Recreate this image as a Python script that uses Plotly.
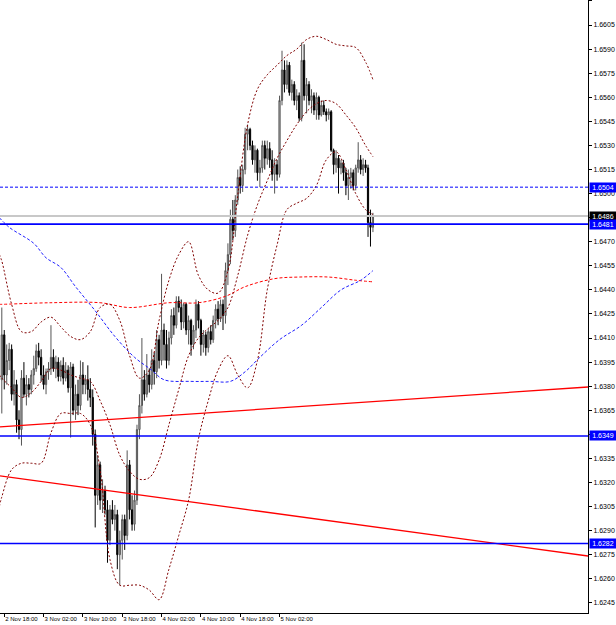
import pandas as pd
import plotly.graph_objects as go

# ---------------- data ----------------
bar_start = "2009-11-02 17:30"   # first visible M30 bar
bar_minutes = 30

opens = [1.6384,1.6412,1.6387,1.6396,1.6403,1.6375,1.6381,1.6359,1.6353,1.6385,
1.6375,1.6381,1.6378,1.6387,1.6391,1.6402,1.6398,1.6387,1.6381,1.6389,
1.6391,1.6398,1.6391,1.6395,1.6386,1.6393,1.6385,1.6390,1.6379,1.6392,
1.6365,1.6375,1.6368,1.6387,1.6381,1.6384,1.6378,1.6373,1.6350,1.6312,
1.6331,1.6309,1.6315,1.6303,1.6284,1.6303,1.6297,1.6300,1.6275,1.6284,
1.6297,1.6287,1.6331,1.6303,1.6294,1.6309,1.6353,1.6368,1.6384,1.6375,
1.6387,1.6381,1.6396,1.6389,1.6409,1.6396,1.6415,1.6406,1.6396,1.6410,
1.6424,1.6418,1.6433,1.6429,1.6420,1.6431,1.6415,1.6421,1.6406,1.6415,
1.6431,1.6421,1.6406,1.6412,1.6404,1.6414,1.6409,1.6421,1.6428,1.6422,
1.6431,1.6424,1.6452,1.6462,1.6484,1.6477,1.6496,1.6510,1.6505,1.6515,
1.6537,1.6540,1.6530,1.6521,1.6527,1.6513,1.6516,1.6530,1.6522,1.6528,
1.6521,1.6512,1.6518,1.6512,1.6558,1.6577,1.6568,1.6580,1.6563,1.6568,
1.6558,1.6561,1.6547,1.6583,1.6561,1.6568,1.6558,1.6561,1.6552,1.6560,
1.6549,1.6555,1.6551,1.6549,1.6551,1.6527,1.6518,1.6522,1.6516,1.6519,
1.6513,1.6505,1.6510,1.6513,1.6505,1.6516,1.6521,1.6515,1.6518,1.6516,
1.6482,1.6479]

highs = [1.6429,1.6415,1.6406,1.6407,1.6406,1.6390,1.6384,1.6365,1.6390,1.6395,
1.6387,1.6385,1.6390,1.6399,1.6406,1.6407,1.6403,1.6393,1.6391,1.6395,
1.6418,1.6403,1.6399,1.6398,1.6396,1.6398,1.6395,1.6393,1.6395,1.6394,
1.6381,1.6384,1.6396,1.6395,1.6387,1.6393,1.6385,1.6378,1.6353,1.6337,
1.6333,1.6322,1.6318,1.6309,1.6306,1.6309,1.6306,1.6303,1.6290,1.6300,
1.6300,1.6340,1.6334,1.6312,1.6315,1.6356,1.6375,1.6410,1.6390,1.6400,
1.6391,1.6403,1.6401,1.6415,1.6412,1.6450,1.6419,1.6415,1.6414,1.6428,
1.6429,1.6436,1.6436,1.6434,1.6432,1.6432,1.6424,1.6422,1.6418,1.6434,
1.6433,1.6422,1.6415,1.6414,1.6416,1.6418,1.6424,1.6431,1.6433,1.6434,
1.6434,1.6457,1.6469,1.6490,1.6496,1.6499,1.6515,1.6517,1.6518,1.6541,
1.6543,1.6541,1.6533,1.6530,1.6528,1.6521,1.6533,1.6533,1.6533,1.6532,
1.6527,1.6522,1.6521,1.6561,1.6589,1.6583,1.6583,1.6582,1.6571,1.6570,
1.6565,1.6563,1.6594,1.6593,1.6572,1.6570,1.6565,1.6563,1.6563,1.6561,
1.6558,1.6558,1.6553,1.6553,1.6552,1.6528,1.6527,1.6524,1.6521,1.6521,
1.6516,1.6515,1.6516,1.6515,1.6518,1.6532,1.6524,1.6522,1.6521,1.6518,
1.6490,1.6488]

lows = [1.6363,1.6378,1.6381,1.6390,1.6371,1.6368,1.6351,1.6347,1.6343,1.6373,
1.6368,1.6373,1.6375,1.6381,1.6389,1.6393,1.6383,1.6378,1.6375,1.6384,
1.6387,1.6389,1.6385,1.6383,1.6383,1.6381,1.6383,1.6376,1.6348,1.6362,
1.6359,1.6362,1.6365,1.6375,1.6375,1.6371,1.6367,1.6343,1.6292,1.6306,
1.6303,1.6301,1.6300,1.6270,1.6281,1.6294,1.6290,1.6266,1.6256,1.6272,
1.6278,1.6284,1.6297,1.6290,1.6290,1.6306,1.6347,1.6363,1.6371,1.6373,
1.6376,1.6378,1.6381,1.6385,1.6391,1.6393,1.6396,1.6391,1.6393,1.6406,
1.6412,1.6416,1.6426,1.6415,1.6416,1.6412,1.6406,1.6399,1.6403,1.6410,
1.6416,1.6399,1.6401,1.6399,1.6401,1.6406,1.6407,1.6416,1.6418,1.6420,
1.6415,1.6419,1.6443,1.6456,1.6471,1.6473,1.6493,1.6500,1.6501,1.6512,
1.6527,1.6527,1.6518,1.6513,1.6508,1.6504,1.6513,1.6515,1.6518,1.6516,
1.6508,1.6500,1.6508,1.6510,1.6555,1.6563,1.6565,1.6561,1.6558,1.6555,
1.6552,1.6545,1.6545,1.6558,1.6550,1.6555,1.6550,1.6549,1.6546,1.6546,
1.6548,1.6549,1.6545,1.6546,1.6526,1.6512,1.6513,1.6500,1.6512,1.6508,
1.6499,1.6496,1.6503,1.6502,1.6502,1.6513,1.6512,1.6511,1.6513,1.6473,
1.6467,1.6476]

closes = [1.6412,1.6387,1.6396,1.6403,1.6375,1.6381,1.6359,1.6353,1.6385,1.6375,
1.6381,1.6378,1.6387,1.6391,1.6402,1.6398,1.6387,1.6381,1.6389,1.6391,
1.6398,1.6391,1.6395,1.6386,1.6393,1.6385,1.6390,1.6379,1.6392,1.6365,
1.6375,1.6368,1.6387,1.6381,1.6384,1.6378,1.6373,1.6350,1.6312,1.6331,
1.6309,1.6315,1.6303,1.6284,1.6303,1.6297,1.6300,1.6275,1.6284,1.6297,
1.6287,1.6331,1.6303,1.6294,1.6309,1.6353,1.6368,1.6384,1.6375,1.6387,
1.6381,1.6396,1.6389,1.6409,1.6396,1.6415,1.6406,1.6396,1.6410,1.6424,
1.6418,1.6433,1.6429,1.6420,1.6431,1.6415,1.6421,1.6406,1.6415,1.6431,
1.6421,1.6406,1.6412,1.6404,1.6414,1.6409,1.6421,1.6428,1.6422,1.6431,
1.6424,1.6452,1.6462,1.6484,1.6477,1.6496,1.6510,1.6505,1.6515,1.6537,
1.6540,1.6530,1.6521,1.6527,1.6513,1.6516,1.6530,1.6522,1.6528,1.6521,
1.6512,1.6518,1.6512,1.6558,1.6577,1.6568,1.6580,1.6563,1.6568,1.6558,
1.6561,1.6547,1.6583,1.6561,1.6568,1.6558,1.6561,1.6552,1.6560,1.6549,
1.6555,1.6551,1.6549,1.6551,1.6527,1.6518,1.6522,1.6516,1.6519,1.6513,
1.6505,1.6510,1.6513,1.6505,1.6516,1.6521,1.6515,1.6518,1.6516,1.6482,
1.6479,1.6486]

# Bollinger bands (read at bar indices)
bb_idx = [-1, 0, 4, 8, 12, 16, 20, 24, 28, 32, 36, 40, 44, 48, 52, 56, 60, 64, 68, 72,
          76, 80, 84, 88, 92, 96, 100, 104, 108, 112, 116, 120, 124, 128, 132, 136, 140, 144, 148, 151]
bb_upper = [1.6462, 1.6458, 1.6431, 1.6414, 1.6414, 1.6420, 1.6423, 1.6417, 1.6411, 1.6409,
            1.6414, 1.6429, 1.6431, 1.6421, 1.6399, 1.6385, 1.6390, 1.6421, 1.6446, 1.6462,
            1.6470, 1.6449, 1.6440, 1.6438, 1.6452, 1.6499, 1.6543, 1.6565, 1.6574, 1.6580,
            1.6586, 1.6590, 1.6596, 1.6598, 1.6596, 1.6593, 1.6592, 1.6591, 1.6582, 1.6571]
bb_middle = [1.6387, 1.6385, 1.6379, 1.6373, 1.6376, 1.6383, 1.6391, 1.6390, 1.6387, 1.6385,
             1.6383, 1.6371, 1.6356, 1.6337, 1.6327, 1.6322, 1.6323, 1.6334, 1.6356, 1.6378,
             1.6399, 1.6410, 1.6416, 1.6421, 1.6429, 1.6449, 1.6474, 1.6493, 1.6508, 1.6522,
             1.6533, 1.6543, 1.6551, 1.6556, 1.6558, 1.6556, 1.6549, 1.6541, 1.6530, 1.6523]
bb_lower = [1.6305, 1.6311, 1.6328, 1.6332, 1.6332, 1.6332, 1.6351, 1.6363, 1.6363, 1.6363,
            1.6356, 1.6328, 1.6272, 1.6256, 1.6256, 1.6256, 1.6253, 1.6247, 1.6266, 1.6287,
            1.6309, 1.6347, 1.6371, 1.6390, 1.6399, 1.6387, 1.6379, 1.6396, 1.6440, 1.6468,
            1.6490, 1.6494, 1.6497, 1.6505, 1.6521, 1.6526, 1.6515, 1.6500, 1.6490, 1.6487]

ma_red_idx = [-1, 0, 20, 40, 52, 68, 80, 91, 99, 111, 121, 133, 144, 151]
ma_red = [1.6431, 1.6431, 1.6432, 1.6432, 1.6429, 1.6432, 1.6432, 1.6436, 1.6442, 1.6447,
          1.6448, 1.6448, 1.6446, 1.6445]

ma_blue_idx = [-1, 3, 13, 18, 24, 30, 38, 46, 54, 61, 66, 77, 85, 93, 99, 105, 113, 122, 130, 138, 146, 151]
ma_blue = [1.6485, 1.6479, 1.6469, 1.6460, 1.6454, 1.6442, 1.6427, 1.6411, 1.6398, 1.6390,
           1.6384, 1.6383, 1.6383, 1.6383, 1.6389, 1.6398, 1.6409, 1.6418, 1.6429, 1.6440,
           1.6446, 1.6452]

# trend lines (price at left edge, price at right edge of the view)
trend_times = ["2009-11-02 17:08", "2009-11-07 16:45"]
trend_up = [1.63546, 1.63795]
trend_down = [1.63241, 1.62742]

level_blue_dash = 1.6504
level_blue_solid = [1.6481, 1.6349, 1.6282]
bid_price = 1.6486

tick_times = ["2009-11-02 18:00", "2009-11-03 02:00", "2009-11-03 10:00", "2009-11-03 18:00",
              "2009-11-04 02:00", "2009-11-04 10:00", "2009-11-04 18:00", "2009-11-05 02:00"]
tick_labels = ["2 Nov 18:00", "3 Nov 02:00", "3 Nov 10:00", "3 Nov 18:00",
               "4 Nov 02:00", "4 Nov 10:00", "4 Nov 18:00", "5 Nov 02:00"]

y_range = [1.62387, 1.66206]
x_range = trend_times

# ---------------- figure ----------------
t0 = pd.Timestamp(bar_start)
bar_times = pd.date_range(t0, periods=len(closes), freq=f"{bar_minutes}min")


def idx_to_time(idx):
    return [t0 + pd.Timedelta(minutes=bar_minutes * i) for i in idx]


fig = go.Figure()

BLUE = "#0000ff"
MAROON = "#800000"

# trend lines
fig.add_trace(go.Scatter(x=pd.to_datetime(trend_times), y=trend_up, mode="lines",
                         line=dict(color="#ff0000", width=1.3), hoverinfo="skip"))
fig.add_trace(go.Scatter(x=pd.to_datetime(trend_times), y=trend_down, mode="lines",
                         line=dict(color="#ff0000", width=1.3), hoverinfo="skip"))

# moving averages
fig.add_trace(go.Scatter(x=idx_to_time(ma_red_idx), y=ma_red, mode="lines",
                         line=dict(color="#ff0000", width=1, dash="3px,2px", shape="spline"),
                         hoverinfo="skip"))
fig.add_trace(go.Scatter(x=idx_to_time(ma_blue_idx), y=ma_blue, mode="lines",
                         line=dict(color="#2020ff", width=1, dash="3px,2px", shape="spline"),
                         hoverinfo="skip"))

# Bollinger bands
for band in (bb_upper, bb_middle, bb_lower):
    fig.add_trace(go.Scatter(x=idx_to_time(bb_idx), y=band, mode="lines",
                             line=dict(color=MAROON, width=1, dash="2px,2px", shape="spline"),
                             hoverinfo="skip"))

# candles
fig.add_trace(go.Candlestick(
    x=bar_times, open=opens, high=highs, low=lows, close=closes,
    increasing=dict(line=dict(color="#555555", width=1), fillcolor="#c8c8c8"),
    decreasing=dict(line=dict(color="#000000", width=1), fillcolor="#000000"),
    whiskerwidth=0, hoverinfo="skip"))

# horizontal levels
shapes = [dict(type="line", xref="paper", x0=0, x1=1, yref="y", y0=bid_price, y1=bid_price,
               line=dict(color="#c8c8c8", width=2)),
          dict(type="line", xref="paper", x0=0, x1=1, yref="y", y0=level_blue_dash, y1=level_blue_dash,
               line=dict(color=BLUE, width=1, dash="3px,2px"))]
for lv in level_blue_solid:
    shapes.append(dict(type="line", xref="paper", x0=0, x1=1, yref="y", y0=lv, y1=lv,
                       line=dict(color=BLUE, width=1.6)))
fig.update_layout(shapes=shapes)

# price tags on the axis
tags = [(level_blue_dash, BLUE), (bid_price, "#000000")] + [(lv, BLUE) for lv in level_blue_solid]
for price, col in tags:
    fig.add_annotation(xref="paper", x=1, xanchor="left", xshift=1, yref="y", y=price,
                       text=f"{price:.4f}", showarrow=False, bgcolor=col,
                       font=dict(family="Liberation Sans", size=7, color="#ffffff"),
                       borderpad=0, width=26, height=9, align="center")

fig.update_layout(
    width=616, height=625,
    margin=dict(l=0, r=28, t=0, b=12, autoexpand=False),
    paper_bgcolor="#ffffff", plot_bgcolor="#ffffff",
    showlegend=False,
    xaxis=dict(type="date", range=pd.to_datetime(x_range), rangeslider=dict(visible=False),
               tickvals=pd.to_datetime(tick_times), ticktext=tick_labels,
               ticks="outside", ticklen=3, tickcolor="#000000", tickangle=0,
               ticklabelposition="outside right", automargin=False,
               tickfont=dict(family="Liberation Sans", size=6, color="#000000"),
               showgrid=False, zeroline=False, showline=True, linecolor="#000000",
               linewidth=1, mirror=True),
    yaxis=dict(side="right", range=y_range, tick0=1.6245, dtick=0.0015, tickformat=".4f",
               ticks="outside", ticklen=3, tickcolor="#000000", automargin=False,
               tickfont=dict(family="Liberation Sans", size=7, color="#000000"),
               showgrid=False, zeroline=False, showline=True, linecolor="#000000",
               linewidth=1),
)

fig.write_html("out.html")
